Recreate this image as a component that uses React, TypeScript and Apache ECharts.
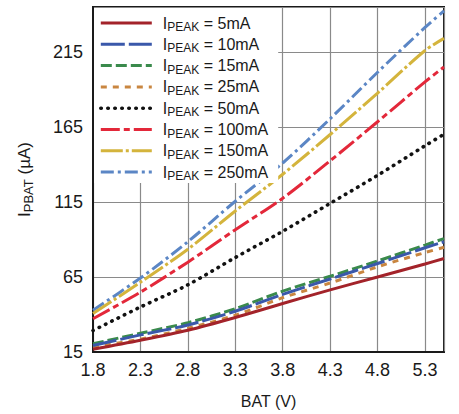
import React, { useEffect, useRef } from 'react';
import * as echarts from 'echarts';

const batVoltage = [1.8, 2.3, 2.8, 3.3, 3.8, 4.3, 4.8, 5.3, 5.5];
const xTicks = ['1.8', '2.3', '2.8', '3.3', '3.8', '4.3', '4.8', '5.3'];
const yTicks = [15, 65, 115, 165, 215];
const peakLabels = ['5mA', '10mA', '15mA', '25mA', '50mA', '100mA', '150mA', '250mA'];

const ipbat5 = [16.8, 22.8, 29.5, 38.0, 47.3, 56.4, 65.0, 73.7, 77.3];
const ipbat10 = [19.3, 26.4, 33.0, 42.2, 53.4, 63.7, 74.0, 84.5, 88.5];
const ipbat15 = [20.5, 27.5, 34.5, 43.9, 55.6, 65.5, 75.7, 86.3, 90.6];
const ipbat25 = [18.3, 23.6, 30.8, 39.5, 51.2, 61.0, 71.8, 81.3, 84.8];
const ipbat50 = [29.3, 45.0, 59.8, 78.0, 95.5, 114.1, 132.8, 152.5, 160.2];
const ipbat100 = [37.2, 54.9, 74.9, 96.5, 117.5, 142.5, 168.5, 195.1, 205.0];
const ipbat150 = [40.6, 61.5, 83.5, 109.0, 133.5, 160.0, 187.6, 216.0, 224.1];
const ipbat250 = [42.9, 64.3, 88.5, 115.5, 141.0, 170.5, 201.5, 231.4, 242.4];

const seriesValues = [ipbat5, ipbat10, ipbat15, ipbat25, ipbat50, ipbat100, ipbat150, ipbat250];
const seriesColors = ['#a3232a', '#3a58aa', '#3a8a4c', '#c98640', '#111111', '#e3283a', '#d4b43c', '#5b86c5'];
const seriesDash: any[] = ['solid', [24, 4], [11, 4], [6, 6], [0.5, 6.5], [19, 4, 6, 4], [22, 3, 3, 3], [13, 4, 3, 4]];

const FONT = "'Liberation Sans', Arial, Helvetica, sans-serif";

export default function App() {
  const ref = useRef<HTMLDivElement>(null);
  useEffect(() => {
    if (!ref.current) return;
    const chart = echarts.init(ref.current, undefined, { renderer: 'svg' });
    const series = peakLabels.map((lab, i) => ({
      name: 'IPEAK = ' + lab,
      type: 'line',
      data: batVoltage.map((x, j) => [x, seriesValues[i][j]]),
      showSymbol: false,
      symbol: 'none',
      smooth: 0.3,
      lineStyle: {
        color: seriesColors[i],
        width: i === 4 ? 3.6 : 3,
        type: seriesDash[i],
        cap: i === 4 ? 'round' : 'butt',
      },
      itemStyle: { color: seriesColors[i] },
      z: 2 + (8 - i) * 0.01,
    }));
    chart.setOption({
      animation: false,
      backgroundColor: '#fff',
      textStyle: { fontFamily: FONT },
      grid: {
        left: 93, top: 7, width: 351, height: 351,
        show: true, borderColor: '#1a1a1a', borderWidth: 2, backgroundColor: 'transparent',
      },
      legend: {
        orient: 'vertical',
        left: 94, top: 8,
        padding: [7, 10, 1, 5],
        backgroundColor: '#fff',
        itemWidth: 51, itemHeight: 14, itemGap: 3.3,
        itemStyle: { opacity: 0 },
        lineStyle: { width: 'inherit' },
        data: peakLabels.map((lab) => 'IPEAK = ' + lab),
        formatter: (name: string) => `{m|I}{s|PEAK}{m| = ${name.replace('IPEAK = ', '')}}`,
        textStyle: {
          fontFamily: FONT, color: '#1a1a1a', padding: [0, 0, 0, 6],
          rich: {
            m: { fontSize: 16, lineHeight: 20, verticalAlign: 'middle', fontFamily: FONT, color: '#1a1a1a' },
            s: { fontSize: 12, lineHeight: 12, verticalAlign: 'bottom', fontFamily: FONT, color: '#1a1a1a' },
          },
        },
      },
      xAxis: {
        type: 'value', min: 1.8, max: 5.5, interval: 0.5,
        name: 'BAT (V)', nameLocation: 'middle', nameGap: 41,
        nameTextStyle: { fontSize: 16, color: '#1a1a1a', fontFamily: FONT },
        axisLine: { show: true, lineStyle: { color: '#1a1a1a', width: 2 } },
        axisTick: { show: false },
        axisLabel: {
          fontSize: 18, color: '#1a1a1a', margin: 9, fontFamily: FONT, showMaxLabel: false,
          formatter: (v: number) => {
            const s = v.toFixed(1);
            return xTicks.includes(s) ? s : '';
          },
        },
        splitLine: { show: true, lineStyle: { color: '#8a8a8a', width: 1.2 } },
      },
      yAxis: {
        type: 'value', min: 15, max: 245, interval: 50,
        name: '{m|I}{s|PBAT}{m| (µA)}', nameLocation: 'middle', nameGap: 58, nameRotate: 90,
        nameTextStyle: {
          fontFamily: FONT, color: '#1a1a1a',
          rich: {
            m: { fontSize: 17, lineHeight: 21, verticalAlign: 'middle', fontFamily: FONT, color: '#1a1a1a' },
            s: { fontSize: 13, lineHeight: 13, verticalAlign: 'bottom', fontFamily: FONT, color: '#1a1a1a' },
          },
        },
        axisLine: { show: true, lineStyle: { color: '#1a1a1a', width: 2 } },
        axisTick: { show: false },
        axisLabel: {
          fontSize: 18, color: '#1a1a1a', margin: 10, fontFamily: FONT, showMaxLabel: false,
          formatter: (v: number) => (yTicks.includes(Math.round(v)) ? String(Math.round(v)) : ''),
        },
        splitLine: { show: true, lineStyle: { color: '#8a8a8a', width: 1.2 } },
      },
      series,
    });
    return () => chart.dispose();
  }, []);
  return <div ref={ref} style={{ position: 'fixed', left: 0, top: 0, width: 459, height: 414 }} />;
}
